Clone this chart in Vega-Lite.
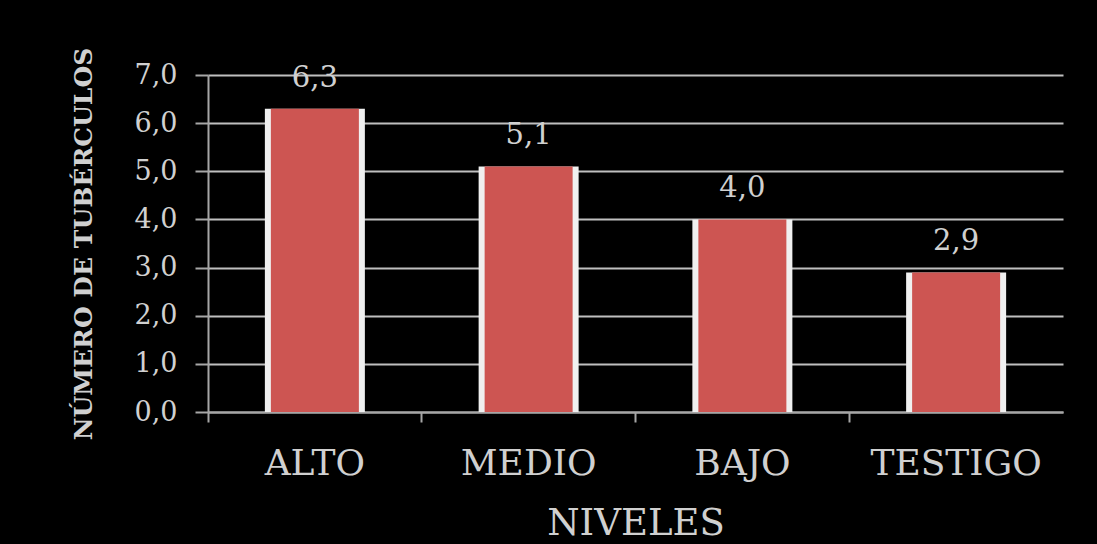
{
  "$schema": "https://vega.github.io/schema/vega-lite/v6.json",
  "width": 855,
  "height": 337,
  "autosize": {"type": "none"},
  "padding": {"left": 208, "top": 75, "right": 34, "bottom": 132},
  "background": "#000000",
  "data": {"values": [
    {"nivel": "ALTO", "valor": 6.3},
    {"nivel": "MEDIO", "valor": 5.1},
    {"nivel": "BAJO", "valor": 4.0},
    {"nivel": "TESTIGO", "valor": 2.9}
  ]},
  "encoding": {
    "x": {
      "field": "nivel", "type": "nominal", "sort": null,
      "scale": {"paddingInner": 0, "paddingOuter": 0},
      "axis": {
        "title": "NIVELES", "labelAngle": 0, "bandPosition": 0, "grid": false,
        "tickSize": 10, "labelFontSize": 36, "labelPadding": 24,
        "titleFontSize": 37, "titleFontWeight": "normal", "titlePadding": 24
      }
    },
    "y": {
      "field": "valor", "type": "quantitative",
      "scale": {"domain": [0, 7], "nice": false},
      "axis": {
        "title": "NÚMERO DE TUBÉRCULOS", "values": [0, 1, 2, 3, 4, 5, 6, 7], "format": ".1f",
        "grid": true, "tickSize": 13, "labelFontSize": 27, "labelPadding": 18,
        "titleFontSize": 25, "titleFontWeight": "bold", "titlePadding": 38
      }
    }
  },
  "layer": [
    {"mark": {"type": "bar", "size": 100, "color": "#f0f0f0"}},
    {"mark": {"type": "bar", "size": 88, "color": "#cd5552"}},
    {
      "mark": {"type": "text", "dy": -16, "baseline": "bottom", "font": "DejaVu Serif", "fontSize": 29, "color": "#d0d0d0"},
      "encoding": {"text": {"field": "valor", "type": "quantitative", "format": ".1f"}}
    }
  ],
  "config": {
    "locale": {"number": {"decimal": ",", "thousands": ".", "grouping": [3], "currency": ["", " €"]}},
    "view": {"stroke": null},
    "axis": {
      "domainColor": "#a6a6a6", "domainWidth": 2,
      "tickColor": "#a6a6a6", "tickWidth": 2,
      "gridColor": "#bfbfbf", "gridWidth": 2,
      "labelFont": "DejaVu Serif", "labelColor": "#d0d0d0",
      "titleFont": "DejaVu Serif", "titleColor": "#d0d0d0"
    }
  }
}
